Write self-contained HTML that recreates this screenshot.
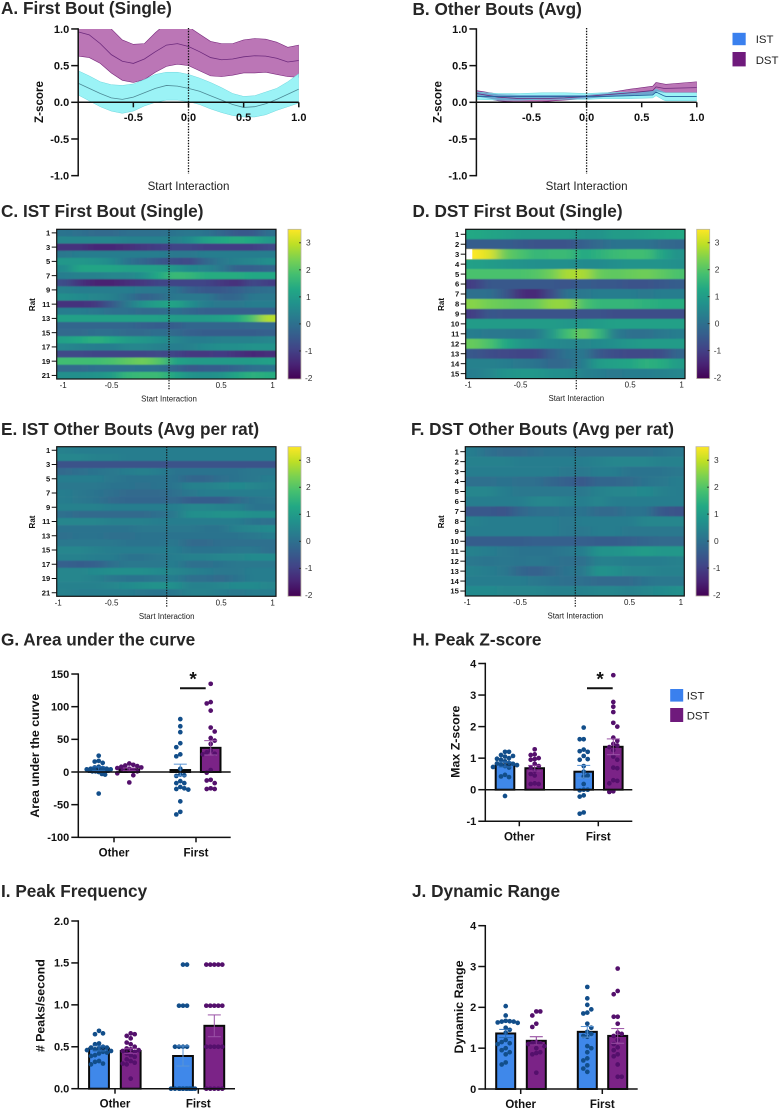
<!DOCTYPE html>
<html lang="en">
<head>
<meta charset="utf-8">
<title>Photometry summary figure</title>
<style>
html,body{margin:0;padding:0;background:#fff;}
#figure{display:block;width:780px;height:1110px;}
text{font-family:"Liberation Sans",Arial,sans-serif;fill:#111;}
.title{font-size:17.2px;font-weight:700;fill:#262626;}
.tick{font-size:11px;font-weight:700;}
.axt{font-size:11.6px;font-weight:700;}
.axt2{font-size:12.4px;font-weight:700;}
.xt{font-size:11.6px;fill:#222;}
.cat{font-size:11.5px;font-weight:700;}
.hrow{font-size:7.6px;font-weight:700;}
.hx{font-size:8px;fill:#222;}
.ht{font-size:7.9px;fill:#222;}
.hrat{font-size:8px;font-weight:700;}
.cb{font-size:8.4px;fill:#333;}
.leg{font-size:11.4px;fill:#222;}
</style>
</head>
<body>
<svg id="figure" xmlns="http://www.w3.org/2000/svg" width="780" height="1110" viewBox="0 0 780 1110">
<defs>
<filter id="hblur" filterUnits="userSpaceOnUse" x="0" y="200" width="780" height="420"><feGaussianBlur stdDeviation="6 0.6"/></filter>
<linearGradient id="viridis-grad" x1="0" y1="1" x2="0" y2="0">
<stop offset="0" stop-color="#440154"/><stop offset=".1" stop-color="#482475"/><stop offset=".2" stop-color="#414487"/><stop offset=".3" stop-color="#355f8d"/><stop offset=".4" stop-color="#2a788e"/><stop offset=".5" stop-color="#21918c"/><stop offset=".6" stop-color="#22a884"/><stop offset=".7" stop-color="#44bf70"/><stop offset=".8" stop-color="#7ad151"/><stop offset=".9" stop-color="#bddf26"/><stop offset="1" stop-color="#fde725"/>
</linearGradient>
</defs>
</svg>
<script>
/* ---------- Panel A data ---------- */
const timeA = [-1,-.9,-.8,-.7,-.6,-.5,-.4,-.3,-.2,-.1,0,.1,.2,.3,.4,.5,.6,.7,.8,.9,1];
const dstMeanA = [.96,.92,.8,.65,.56,.53,.59,.69,.78,.8,.76,.69,.61,.58,.59,.62,.635,.63,.6,.55,.57];
const dstUpperA = [1.3,1.25,1.15,1,.85,.79,.8,.95,1.08,1.09,1.03,.93,.83,.8,.8,.85,.87,.86,.82,.75,.78];
const dstLowerA = [.63,.61,.53,.4,.3,.27,.31,.41,.49,.52,.5,.43,.36,.35,.37,.4,.4,.41,.38,.35,.34];
const istMeanA = [.26,.19,.12,.06,.04,.07,.13,.19,.23,.22,.19,.15,.09,.03,-.03,-.07,-.06,-.02,.04,.11,.18];
const istUpperA = [.43,.36,.28,.24,.23,.25,.31,.38,.41,.41,.38,.33,.27,.2,.12,.08,.09,.14,.19,.28,.39];
const istLowerA = [.1,.02,-.06,-.12,-.15,-.12,-.05,0,.03,.03,.01,-.03,-.09,-.14,-.18,-.2,-.2,-.17,-.11,-.06,-.01];
/* ---------- Panel B data ---------- */
const timeB = [-1,-.8,-.6,-.4,-.2,0,.15,.4,.6,.63,.7,.72,1];
const dstMeanB = [.12,.07,.05,.05,.06,.08,.1,.13,.16,.21,.19,.19,.2];
const dstUpperB = [.16,.11,.1,.1,.1,.1,.12,.18,.22,.27,.25,.245,.28];
const dstLowerB = [.08,.02,0,.01,.03,.05,.07,.09,.1,.15,.13,.13,.13];
const istMeanB = [.08,.08,.08,.08,.08,.08,.08,.09,.1,.14,.09,.08,.08];
const istUpperB = [.14,.12,.12,.13,.13,.12,.13,.14,.15,.18,.14,.13,.13];
const istLowerB = [.04,.03,.03,.04,.04,.04,.05,.05,.06,.09,.03,.02,.02];
const zTicks = [1,.5,0,-.5,-1];
const timeTicks = [-.5,0,.5,1];
/* ---------- Heatmap data (rows = rats, columns = time bins) ---------- */
const heatC = [
[.1,0,-.1,-.1,0,0,0,.1,.2,.1,-.2,-.5,-.5,0],
[.5,.5,.5,.5,.4,.4,.4,.4,.6,1.1,1.3,1.4,1.3,.9],
[-1.2,-1.2,-1.4,-1.4,-1.3,-1.1,-1,-.9,-.9,-1,-1,-1,-1,-.8],
[.2,.3,.3,.3,.3,.3,.3,.2,.2,.3,.3,.3,.3,.3],
[.9,.9,.8,.6,.1,-.2,-.5,-.7,-.8,-.2,.2,.4,.5,.7],
[.6,1.2,1.2,1.2,1.1,1.1,1.1,.9,.6,.5,.2,-.3,-.3,-.2],
[.3,.4,.4,.5,.5,.7,1.3,1.7,1.6,1.4,1.4,1.4,1.3,1.3],
[-.7,-1.2,-1.5,-1.5,-1.3,-1.1,-.9,-.9,-.9,-.9,-1.1,-1.3,-.8,-1],
[.4,.3,.3,.3,.3,.2,.2,.1,-.3,-.5,-.5,-.3,-.1,0],
[.7,.6,.5,.4,.1,-.3,-.1,.2,.2,.2,-.2,-.2,.2,.2],
[-1.2,-1.2,-1.1,-.5,.2,.8,1.1,1.2,.7,.3,.2,.2,.3,.3],
[.3,.3,.2,0,0,-.1,-.1,0,-.2,-.3,-.3,-.3,-.3,-.3],
[1.1,1.1,1.1,1.1,1.1,1.1,1.1,1,1,1,1.1,1.3,1.9,2.9],
[-.2,-.2,-.2,-.2,-.2,-.3,-.4,-.4,-.2,-.2,-.2,-.2,-.1,-.1],
[-.1,-.1,0,0,-.1,-.1,0,-.1,-.3,-.4,-.4,-.4,-.4,-.3],
[1.1,1.3,1.5,1.3,1,.9,.7,.5,.3,.3,.4,.4,.4,.5],
[.5,.4,.3,.3,.5,.5,.4,.3,.4,.6,.7,.7,.8,.8],
[-.8,-.8,-.9,-.9,-.9,-.9,-.8,-.9,-1.1,-1.1,-1,-1.2,-1.4,-1.3],
[1.8,1.8,1.8,1.9,2.1,2.3,2,1.2,1,1,1,1,1,1.1],
[-.1,-.1,0,0,0,.1,0,-.2,-.5,-.4,-.4,-.2,0,.1],
[.7,.7,.8,1,1.6,1.7,1.7,1.2,.8,.7,.8,1.2,1.5,1.4]];
const heatD = [
[1.3,1.2,1.1,1,1,1,1,.8,.8,1,1,1.1,1.2,1.3],
[-.4,-.4,-.4,-.5,-.6,-.6,-.6,-.3,-.1,.1,.1,.1,-.1,-.2],
[3.5,3.2,2.2,1.9,1.6,1.7,1.7,1.3,1.5,1.7,1.8,1.8,1.2,.8],
[1.1,1,.9,.8,.7,.7,.7,.6,.6,.7,.8,.8,.8,.7],
[1.9,1.9,1.9,1.9,2,2.3,2.8,2.8,2.2,2.1,2.2,2.3,2.1,1.9],
[-1,-.5,-.5,-.5,-.5,-.5,-.6,-.4,-.5,-.5,-.6,-.6,-.5,-.4],
[0,0,-.5,-1.3,-1.4,-.7,.1,.2,.3,.3,.3,.2,.3,.3],
[2.5,2.3,2.2,2.1,2.2,2.6,2.6,1.9,1.6,1.6,1.6,1.5,1.4,1.4],
[-1,-.5,-.6,-.6,-.6,-.6,-.6,-.6,-.6,-.7,-.7,-.7,-.7,-.7],
[1,1,1,1,1,1,.9,.9,1,1.1,1.1,1.1,1.1,1.1],
[.3,.2,.2,.1,.2,.9,1.8,2.2,1.6,.3,0,0,.2,.3],
[2.2,1.9,1.3,.9,.7,.6,.5,.5,.6,.7,.9,1,1,1],
[-.5,-.7,-.8,-.9,-.9,-.3,.1,.2,-.5,-.7,-.8,-.8,-.7,-.2],
[.4,.4,.3,.2,.1,-.2,-.1,.3,1,1.1,1.2,1.5,1.4,1],
[.3,.5,.8,.9,.9,.7,.7,.4,.3,.2,.3,.3,.4,.5]];
const heatE = [
[.4,.3,.3,.3,.3,.3,.3,.3,.3,.3,.3,.3,.3,.3],
[.5,.5,.4,.4,.3,.3,.3,.3,.3,.3,.3,.3,.3,.3],
[-.6,-.6,-.6,-.6,-.6,-.6,-.6,-.6,-.6,-.6,-.6,-.6,-.6,-.6],
[-.1,0,.1,.2,.3,.4,.3,.1,.1,.1,.1,.1,.2,.2],
[.3,.3,.3,.2,.1,.1,.1,.1,-.2,-.2,0,.1,.2,.3],
[.2,.2,.2,.1,.1,0,.1,.1,.4,.4,.5,.6,.5,.4],
[.3,.2,.1,0,-.1,-.1,-.1,0,.2,.3,.3,.3,.3,.3],
[.3,.2,.1,-.1,-.2,-.2,-.2,-.1,-.4,-.4,-.4,-.1,.1,.2],
[.4,.4,.4,.3,.3,.3,.3,.3,.5,.5,.4,.4,.1,.1],
[0,-.1,-.1,-.1,-.1,-.1,0,.2,.7,.7,.8,.8,.7,.7],
[.5,.5,.5,.4,.4,.4,.3,.3,.3,.3,.3,.3,.1,0],
[.1,.1,.1,.1,.1,.2,.2,.2,.2,.1,.1,.4,.5,.6],
[0,.1,.1,0,0,.1,.1,.1,.1,.1,.1,.1,.2,.3],
[.2,.2,.2,.2,.1,.1,.1,.2,-.1,-.1,0,0,0,0],
[.5,.5,.4,.3,.3,.3,.3,.3,.1,.1,.1,.2,.2,0],
[.4,.4,.3,.3,.1,.1,.2,.3,.4,.4,.5,.5,.6,.6],
[-.3,-.4,-.3,0,.2,.2,.2,.3,0,0,.1,.2,.2,.2],
[.5,.5,.6,.7,.7,.7,.6,.5,.4,.3,.2,.2,.3,.3],
[.5,.5,.4,.2,.1,.1,.2,.3,0,0,-.1,.1,.3,.3],
[.4,.4,.4,.5,.6,.7,.8,.7,.4,.4,.5,.6,.6,.5],
[.4,.3,.3,.3,.3,.2,.1,.2,.4,.4,.3,.2,.3,.3]];
const heatF = [
[.3,0,-.1,-.1,0,.1,.1,0,0,0,0,0,.1,.2],
[.4,.4,.4,.3,.3,.3,.3,.3,.4,.5,.5,.5,.4,.4],
[.3,.3,.3,.3,.3,.3,.2,.2,.3,.3,.1,.1,.1,.2],
[0,0,.1,0,0,-.2,-.3,-.5,-.2,-.2,-.1,.1,.2,.3],
[.5,.5,.3,.2,.2,.2,.2,.2,.4,.5,.5,.6,.4,.3],
[.3,.3,.3,.3,.5,.5,.4,.3,.5,.3,.3,.3,.3,.3],
[-.5,-.5,-.6,-.2,0,0,.1,.1,-.1,-.1,.1,.1,-.5,-.6],
[.4,.3,.3,.3,.3,.3,.2,.3,.3,.3,.3,.5,.5,.5],
[.3,.3,.3,.3,.3,.3,.2,.2,.3,.3,.2,.2,.2,.2],
[-.4,-.4,-.4,-.4,-.3,-.3,-.3,-.3,-.4,-.4,-.3,-.2,-.1,-.1],
[.4,.3,.2,.1,.1,.1,.2,.3,.8,.8,.9,1,.9,.9],
[.2,.1,.2,.1,.2,.1,0,0,.4,.4,.3,.3,.3,.4],
[.4,.3,.2,-.2,-.3,-.1,.1,.2,.8,.7,.5,.5,.4,.4],
[.3,.3,.3,.3,.2,.1,0,0,-.1,-.1,-.1,.1,.2,.2],
[.6,.6,.5,.5,.5,.4,.4,.4,.5,.5,.4,.5,.6,.7]];
const colorbarTicks = [3,2,1,0,-1,-2];
const heatXTicks = [-1,-.5,.5,1];
/* ---------- Bar panel data: order = Other IST, Other DST, First IST, First DST ---------- */
const groupCats = ["Other","First"];
const aucMeans = [5,4,3,37];
const aucErrors = [3,2,9,11];
const aucTicks = [150,100,50,0,-50,-100];
const aucIstOther = [25,17,16,14,8,7,6,5,5,4,4,3,3,2,2,1,1,0,-3,-4,-33];
const aucDstOther = [13,11,10,9,8,7,6,5,4,3,2,1,-2,-5,-16];
const aucIstFirst = [81,70,61,44,38,27,24,5,-4,-5,-6,-14,-17,-17,-23,-25,-26,-27,-45,-61,-65];
const aucDstFirst = [135,107,105,94,68,62,52,48,43,33,30,28,27,3,-1,-12,-13,-17,-25,-26,-26];
const peakMeans = [.8,.68,.57,1.36];
const peakErrors = [.08,.09,.2,.25];
const peakTicks = [4,3,2,1,0,-1];
const peakIstOther = [1.2,1.2,1.1,1.07,1.05,1,.98,.95,.9,.85,.83,.82,.8,.78,.75,.72,.7,.47,.42,.4,-.2];
const peakDstOther = [1.28,1.12,1.1,1,.97,.95,.82,.75,.7,.6,.5,.45,.2,.18,.18];
const peakIstFirst = [1.97,1.6,1.6,1.27,1.22,1.2,1.07,.97,.95,.75,.57,.45,.42,.18,0,0,-.02,-.18,-.22,-.72,-.76];
const peakDstFirst = [3.63,2.78,2.63,2.46,2.12,2,1.65,1.55,1.45,1.4,1.35,1.25,1.05,.95,.7,.68,.3,.28,.2,-.05,-.07];
const freqMeans = [.48,.45,.39,.75];
const freqErrors = [.03,.03,.12,.13];
const freqTicks = [2,1.5,1,.5,0];
const freqIstOther = [.69,.66,.65,.54,.53,.5,.49,.49,.48,.47,.46,.45,.44,.43,.42,.4,.39,.33,.32,.3,.29];
const freqDstOther = [.66,.65,.63,.6,.55,.53,.5,.48,.47,.46,.45,.44,.42,.4,.38,.35,.33,.31,.3,.29,.12];
const freqIstFirst = [1.48,1.48,.99,.99,.99,.5,.5,.5,.5,0,0,0,0,0,0,0,0,0,0,0,0];
const freqDstFirst = [1.48,1.48,1.48,1.48,1.48,.99,.99,.99,.99,.99,.5,.5,.5,.5,.5,0,0,0,0,0];
const rangeMeans = [1.36,1.18,1.4,1.3];
const rangeErrors = [.1,.1,.13,.18];
const rangeTicks = [4,3,2,1,0];
const rangeIstOther = [2.03,1.8,1.67,1.66,1.65,1.65,1.63,1.62,1.5,1.45,1.38,1.2,1.15,1.12,1.1,1,.95,.9,.85,.65,.6];
const rangeDstOther = [1.9,1.9,1.8,1.6,1.52,1.15,1.13,1.12,1.1,1.05,1,.9,.88,.85,.4];
const rangeIstFirst = [2.5,2.22,2.06,1.95,1.87,1.85,1.6,1.5,1.4,1.35,1.3,1.28,1.05,1,.9,.75,.7,.58,.5,.42];
const rangeDstFirst = [2.95,2.4,2.32,1.77,1.77,1.6,1.38,1.35,1.3,1.2,1.1,1.02,.95,.85,.8,.6,.3,.3];

const NS = "http://www.w3.org/2000/svg";
const root = document.getElementById("figure");
function mk(tag, attrs, parent, txt) {
  const el = document.createElementNS(NS, tag);
  for (const k in attrs) el.setAttribute(k, attrs[k]);
  if (txt !== undefined) el.textContent = txt;
  (parent || root).appendChild(el);
  return el;
}
function label(name, attrs, parent, txt, inter) {
  const el = mk("text", attrs, parent, txt);
  
  
  return el;
}
function line(name, x1, y1, x2, y2, w, color, parent, dash) {
  const el = mk("line", {x1, y1, x2, y2, stroke: color || "#111", "stroke-width": w || 1.5}, parent);
  if (dash) el.setAttribute("stroke-dasharray", dash);
  
  
  return el;
}
function group(name, parent) {
  const g = mk("g", {}, parent);
  
  
  return g;
}
function fmt(v) { return v.toFixed(1); }

/* ---------- titles ---------- */
const titleTexts = [["A. First Bout (Single)",1,14],["B. Other Bouts (Avg)",412.5,15],["C. IST First Bout (Single)",1,217],["D. DST First Bout (Single)",412.5,217],["E. IST Other Bouts (Avg per rat)",1,435],["F. DST Other Bouts (Avg per rat)",411,435],["G. Area under the curve",1,645.5],["H. Peak Z-score",412.5,645.5],["I. Peak Frequency",1,897],["J. Dynamic Range",412,897]];
titleTexts.forEach(t => {
  label("panel-title", {x: t[1], y: t[2], class: "title"}, root, t[0]);
});

/* ---------- line panels ---------- */
function bandPath(xs, up, lo, sx, sy) {
  let d = "";
  xs.forEach((x, i) => { d += (i ? "L" : "M") + sx(x).toFixed(2) + " " + sy(up[i]).toFixed(2); });
  for (let i = xs.length - 1; i >= 0; i--) d += "L" + sx(xs[i]).toFixed(2) + " " + sy(lo[i]).toFixed(2);
  return d + "Z";
}
function linePath(xs, ys, sx, sy) {
  return xs.map((x, i) => (i ? "L" : "M") + sx(x).toFixed(2) + " " + sy(ys[i]).toFixed(2)).join("");
}
function linePanel(cfg) {
  const g = group(cfg.name);
  const sx = v => cfg.x0 + (v + 1) / 2 * (cfg.x1 - cfg.x0);
  const sy = v => 102.3 - v * 73.35;
  const clipId = cfg.name + "-clip";
  const cp = mk("clipPath", {id: clipId}, g);
  mk("rect", {x: cfg.x0, y: 29, width: cfg.x1 - cfg.x0, height: 147}, cp);
  const data = mk("g", {"clip-path": "url(#" + clipId + ")"}, g);
  const bd = mk("path", {d: bandPath(cfg.xs, cfg.dU, cfg.dL, sx, sy), fill: "#bb76b6", stroke: "#7a2a7e", "stroke-width": .6}, data);
  
  
  const bi = mk("path", {d: bandPath(cfg.xs, cfg.iU, cfg.iL, sx, sy), fill: "#9bf3f6", stroke: "#6fd6dd", "stroke-width": .5}, data);
  
  
  if (cfg.overlap) {
    const oU = cfg.xs.map((x, i) => Math.min(cfg.dU[i], cfg.iU[i]));
    const oL = cfg.xs.map((x, i) => Math.max(cfg.dL[i], cfg.iL[i]));
    const ov = mk("path", {d: bandPath(cfg.xs, oU, oL, sx, sy), fill: "#6ea6cf"}, data);
    
    
  }
  const ld = mk("path", {d: linePath(cfg.xs, cfg.dM, sx, sy), fill: "none", stroke: "#6d2a7d", "stroke-width": .8}, data);
  
  
  const li = mk("path", {d: linePath(cfg.xs, cfg.iM, sx, sy), fill: "none", stroke: cfg.overlap ? "#23619c" : "#4d8a96", "stroke-width": .8}, data);
  
  
  line("y-axis", cfg.x0, 28.3, cfg.x0, 176.4, 1.5, "#111", g);
  line("x-axis", cfg.x0 - .7, sy(0), cfg.x1, sy(0), 1.5, "#111", g);
  zTicks.forEach(t => {
    line("y-tick", cfg.x0 - 7, sy(t), cfg.x0, sy(t), 1.5, "#111", g);
    label("y-tick-label", {x: cfg.x0 - 9, y: sy(t) + 3.8, "text-anchor": "end", class: "tick"}, g, fmt(t));
  });
  timeTicks.forEach(t => {
    line("x-tick", sx(t), sy(0), sx(t), sy(0) + 5, 1.5, "#111", g);
    label("x-tick-label", {x: sx(t), y: 121, "text-anchor": "middle", class: "tick"}, g, fmt(t));
  });
  line("start-interaction-line", sx(0), 28, sx(0), 174, 1.3, "#111", g, "1.4 1.4");
  label("x-axis-title", {x: sx(0), y: 190, "text-anchor": "middle", class: "xt"}, g, "Start Interaction");
  label("y-axis-title", {transform: "translate(" + (cfg.x0 - 35) + " 102) rotate(-90)", "text-anchor": "middle", class: "axt"}, g, "Z-score");
}
linePanel({name: "panel-a-chart", xs: timeA, x0: 78.2, x1: 298.8, dM: dstMeanA, dU: dstUpperA, dL: dstLowerA, iM: istMeanA, iU: istUpperA, iL: istLowerA});
linePanel({name: "panel-b-chart", xs: timeB, x0: 476.4, x1: 696.8, dM: dstMeanB, dU: dstUpperB, dL: dstLowerB, iM: istMeanB, iU: istUpperB, iL: istLowerB, overlap: true});

/* ---------- heatmaps ---------- */
const viridisStops = [[68,1,84],[72,36,117],[65,68,135],[53,95,141],[42,120,142],[33,145,140],[34,168,132],[68,191,112],[122,209,81],[189,223,38],[253,231,37]];
function viridis(v) {
  const t = Math.max(0, Math.min(.9999, (v + 2) / 5.5)) * 10;
  const i = Math.floor(t), f = t - i, a = viridisStops[i], b = viridisStops[i + 1];
  return "rgb(" + a.map((c, k) => Math.round(c + (b[k] - c) * f)).join(",") + ")";
}
function heatPanel(cfg) {
  const g = group(cfg.name);
  const W = cfg.x1 - cfg.x0, H = cfg.y1 - cfg.y0;
  const nr = cfg.rows.length, nc = cfg.rows[0].length;
  const sx = v => cfg.x0 + (v + 1) / 2 * W;
  const rowTop = r => cfg.y0 + r / nr * H;
  const clipId = cfg.name + "-clip";
  const cp = mk("clipPath", {id: clipId}, g);
  mk("rect", {x: cfg.x0, y: cfg.y0, width: W, height: H}, cp);
  const outer = mk("g", {"clip-path": "url(#" + clipId + ")"}, g);
  const cells = mk("g", {filter: "url(#hblur)"}, outer);
  cfg.rows.forEach((row, r) => {
    const top = rowTop(r) - (r === 0 ? 4 : 0);
    const bot = rowTop(r + 1) + (r === nr - 1 ? 4 : .3);
    row.forEach((v, c) => {
      let left = cfg.x0 + c / nc * W, right = cfg.x0 + (c + 1) / nc * W;
      if (c === 0) left -= 30;
      if (c === nc - 1) right += 30;
      const cell = mk("rect", {x: left, y: top, width: right - left + .4, height: bot - top, fill: viridis(v)}, cells);
      
      
    });
  });
  (cfg.over || []).forEach(o => {
    const w = mk("rect", {x: cfg.x0, y: rowTop(o[0] - 1), width: sx(o[1]) - cfg.x0, height: H / nr, fill: "#fff"}, outer);
    
    
  });
  const frame = mk("rect", {x: cfg.x0, y: cfg.y0, width: W, height: H, fill: "none", stroke: "#111", "stroke-width": 1.2}, g);
  
  
  line("start-interaction-line", cfg.zero, cfg.y0, cfg.zero, cfg.y1 + 11, 1.2, "#111", g, "1.3 1.3");
  cfg.rows.forEach((row, r) => {
    if ((r % cfg.every) !== 0) return;
    const y = rowTop(r + .5);
    line("rat-tick", cfg.x0 - 5, y, cfg.x0, y, 1, "#111", g);
    label("rat-tick-label", {x: cfg.x0 - 6.5, y: y + 2.7, "text-anchor": "end", class: "hrow"}, g, String(r + 1));
  });
  heatXTicks.forEach(t => {
    const x = t === -1 ? cfg.firstX : t === 1 ? cfg.x1 - 3.4 : sx(t);
    label("x-tick-label", {x, y: cfg.y1 + 9, "text-anchor": "middle", class: "hx"}, g, String(t));
  });
  label("x-axis-title", {x: cfg.zero, y: cfg.y1 + 22.6, "text-anchor": "middle", class: "ht"}, g, "Start Interaction");
  label("y-axis-title", {transform: "translate(" + (cfg.x0 - 21.5) + " " + (cfg.y0 + H / 2 + 0.5) + ") rotate(-90)", "text-anchor": "middle", class: "hrat"}, g, "Rat");
  const cb = mk("rect", {x: cfg.cx, y: cfg.y0, width: 13, height: H, fill: "url(#viridis-grad)", stroke: "#b9b4a4", "stroke-width": .8}, g);
  
  
  colorbarTicks.forEach(t => {
    const y = cfg.y1 - 1 - (t + 2) / 5.5 * (H - 1);
    if (t > -2) line("colorbar-tick", cfg.cx + 11, y, cfg.cx + 13, y, .8, "#222", g);
    label("colorbar-label", {x: cfg.cx + (t < 0 ? 17 : 18), y: y + 2.9, class: "cb"}, g, String(t));
  });
}
heatPanel({name: "panel-c-heatmap", rows: heatC, x0: 56.7, x1: 276, y0: 229.3, y1: 379, zero: 169, cx: 288, every: 2, firstX: 63.2});
heatPanel({name: "panel-d-heatmap", rows: heatD, x0: 465.7, x1: 685, y0: 229.3, y1: 378.6, zero: 576.3, cx: 696.7, every: 1, firstX: 468.2, over: [[3, -.94]]});
heatPanel({name: "panel-e-heatmap", rows: heatE, x0: 56.7, x1: 276, y0: 446.7, y1: 596.3, zero: 166.7, cx: 288, every: 2, firstX: 58.2});
heatPanel({name: "panel-f-heatmap", rows: heatF, x0: 465.3, x1: 684.3, y0: 446.7, y1: 596, zero: 575.3, cx: 696, every: 1, firstX: 467.2});

/* ---------- bar panels ---------- */
function swarm(vals, sy, cx) {
  const sorted = vals.slice().sort((a, b) => b - a);
  const placed = [];
  const step = 4;
  sorted.forEach((v, idx) => {
    const y = sy(v);
    let chosen = null;
    for (let k = 0; k < 4 && chosen === null; k++) {
      const opts = k === 0 ? [0] : (idx % 2 ? [k, -k] : [-k, k]);
      for (const o of opts) {
        const x = cx + o * step;
        if (placed.every(p => Math.abs(p.x - x) >= step - .1 || Math.abs(p.y - y) >= 4.6)) { chosen = x; break; }
      }
    }
    if (chosen === null) chosen = cx + ((idx % 7) - 3) * 3.2;
    placed.push({x: chosen, y, v});
  });
  return placed;
}
function barPanel(cfg) {
  const g = group(cfg.name);
  const sy = v => cfg.yZero - v * cfg.unit;
  const bottom = sy(cfg.ticks[cfg.ticks.length - 1]);
  const series = ["ist-other", "dst-other", "ist-first", "dst-first"];
  const fills = ["#3f88ea", "#7b2387", "#3f88ea", "#7b2387"];
  const dots = ["#124e8a", "#54106c", "#124e8a", "#54106c"];
  const errs = ["#2a6cb4", "#8a3a96", "#5a94d4", "#9a52a6"];
  cfg.means.forEach((m, i) => {
    const x = cfg.barX[i], w = cfg.barW;
    const y = Math.min(sy(m), sy(0)), h = Math.abs(sy(m) - sy(0));
    const bar = mk("rect", {x: x - w / 2, y, width: w, height: h, fill: fills[i], stroke: "#0a0a0a", "stroke-width": 2}, g);
    
    
  });
  cfg.points.forEach((vals, i) => {
    const pts = mk("g", {}, g);
    
    
    swarm(vals, sy, cfg.barX[i]).forEach(p => {
      const c = mk("circle", {cx: p.x, cy: p.y, r: 2.35, fill: dots[i]}, pts);
      
      
    });
  });
  cfg.means.forEach((m, i) => {
    const x = cfg.barX[i], e = cfg.errors[i];
    line("error-bar", x, sy(m + e), x, sy(m - e), 1, errs[i], g);
    line("error-cap", x - 6.5, sy(m + e), x + 6.5, sy(m + e), 1, errs[i], g);
    line("error-cap", x - 6.5, sy(m - e), x + 6.5, sy(m - e), 1, errs[i], g);
  });
  line("y-axis", cfg.ax, sy(cfg.ticks[0]) - .7, cfg.ax, bottom + .7, 1.5, "#111", g);
  line("x-axis", cfg.ax, bottom, cfg.right, bottom, 1.5, "#111", g);
  if (cfg.ticks[cfg.ticks.length - 1] < 0) line("zero-line", cfg.ax, sy(0), cfg.right, sy(0), 1.5, "#111", g);
  cfg.ticks.forEach(t => {
    line("y-tick", cfg.ax - 7, sy(t), cfg.ax, sy(t), 1.5, "#111", g);
    label("y-tick-label", {x: cfg.ax - 9, y: sy(t) + 3.8, "text-anchor": "end", class: "tick"}, g, cfg.tickFmt ? cfg.tickFmt(t) : String(t));
  });
  groupCats.forEach((c, i) => {
    line("x-tick", cfg.catX[i], bottom, cfg.catX[i], bottom + 5, 1.5, "#111", g);
    label("x-category-label", {x: cfg.catX[i], y: bottom + 19, "text-anchor": "middle", class: "cat"}, g, c);
  });
  label("y-axis-title", {transform: "translate(" + cfg.titleX + " " + cfg.titleY + ") rotate(-90)", "text-anchor": "middle", class: "axt2"}, g, cfg.title);
  if (cfg.sig) {
    line("significance-bar", cfg.sig[0], cfg.sig[2], cfg.sig[1], cfg.sig[2], 2, "#111", g);
    label("significance-star", {x: (cfg.sig[0] + cfg.sig[1]) / 2 + .2, y: cfg.sig[2] - 3, "text-anchor": "middle", style: "font-size:19px;font-weight:700"}, g, "*");
  }
}
barPanel({name: "panel-g-chart", means: aucMeans, errors: aucErrors, ticks: aucTicks, points: [aucIstOther, aucDstOther, aucIstFirst, aucDstFirst],
  yZero: 772, unit: .6532, ax: 78.3, right: 230.7, barX: [98.7, 129.3, 180.3, 210.7], barW: 19.6, catX: [114, 196], title: "Area under the curve", titleX: 39, titleY: 755.7, sig: [180, 205.7, 688.3]});
barPanel({name: "panel-h-chart", means: peakMeans, errors: peakErrors, ticks: peakTicks, points: [peakIstOther, peakDstOther, peakIstFirst, peakDstFirst],
  yZero: 789.7, unit: 31.55, ax: 485.3, right: 632.3, barX: [505, 534.7, 583.7, 613.3], barW: 18.6, catX: [519.3, 598.3], title: "Max Z-score", titleX: 459.7, titleY: 741.7, sig: [587, 612.7, 688.3]});
barPanel({name: "panel-i-chart", means: freqMeans, errors: freqErrors, ticks: freqTicks, points: [freqIstOther, freqDstOther, freqIstFirst, freqDstFirst],
  yZero: 1088.7, unit: 83.85, ax: 78.3, right: 235, barX: [99, 130.7, 183, 214.3], barW: 19.8, catX: [115, 198.3], title: "# Peaks/second", titleX: 44.7, titleY: 1005.7, tickFmt: fmt});
barPanel({name: "panel-j-chart", means: rangeMeans, errors: rangeErrors, ticks: rangeTicks, points: [rangeIstOther, rangeDstOther, rangeIstFirst, rangeDstFirst],
  yZero: 1089, unit: 40.83, ax: 485.3, right: 637.7, barX: [505.7, 536.3, 587.3, 617.7], barW: 19, catX: [520.7, 602.3], title: "Dynamic Range", titleX: 463, titleY: 1007});

/* ---------- legends ---------- */
function legend(name, entries, x, w, labelX) {
  const g = group(name);
  entries.forEach(e => {
    const s = mk("rect", {x, y: e[2], width: w, height: e[3], fill: e[1]}, g);
    
    
    label("legend-label-" + e[0].toLowerCase(), {x: labelX, y: e[4], class: "leg"}, g, e[0]);
  });
}
legend("legend-top", [["IST", "#3a80ee", 32.8, 12.4, 43], ["DST", "#6f1a7c", 52, 14.4, 64]], 732.5, 13.2, 755.7);
legend("legend-middle", [["IST", "#3a80ee", 689, 12.6, 699.4], ["DST", "#6f1a7c", 708, 14, 719.4]], 670.2, 13, 686.7);
</script>
</body>
</html>
